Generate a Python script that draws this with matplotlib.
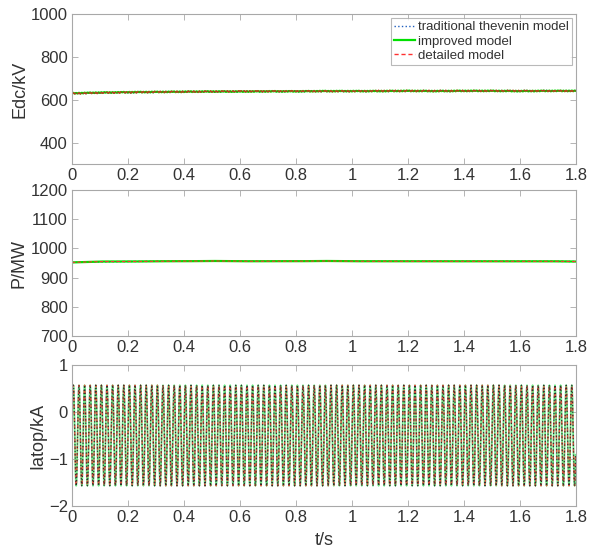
import numpy as np
import matplotlib
matplotlib.use("Agg")
import matplotlib.pyplot as plt

plt.rcParams['font.family'] = ['Liberation Sans', 'DejaVu Sans']

# ---- data ----
t_coarse = [0.00, 0.10, 0.20, 0.30, 0.40, 0.50, 0.60, 0.70, 0.80, 0.90,
            1.00, 1.10, 1.20, 1.30, 1.40, 1.50, 1.60, 1.70, 1.80]
edc_detailed = [629, 632, 634, 636, 637, 638, 639, 639, 640, 640,
                640, 641, 641, 641, 641, 641, 641, 641, 641]
edc_improved = [630, 633, 635, 636, 637, 638, 638, 639, 639, 640,
                640, 640, 641, 640, 641, 641, 640, 641, 641]
edc_thevenin = [629, 632, 634, 635, 637, 637, 638, 639, 639, 639,
                640, 640, 640, 641, 640, 641, 641, 641, 641]
edc_ripple = [0, 2.5, -2, 3, -2.5, 2, -3, 2.5, -2, 1.5, -2.5, 3]

p_detailed = [952, 955, 955, 956, 956, 957, 956, 956, 956, 957,
              956, 956, 956, 956, 956, 956, 956, 956, 955]
p_improved = [952, 955, 955, 956, 956, 957, 956, 956, 956, 957,
              956, 956, 956, 956, 956, 956, 956, 956, 955]
p_thevenin = [952, 954, 955, 956, 956, 957, 956, 956, 956, 957,
              956, 956, 956, 956, 956, 956, 956, 956, 955]

# one 50 Hz period of the arm current (kA), 16 samples
iatop_cycle = [-0.50, -0.09, 0.26, 0.49, 0.57, 0.49, 0.26, -0.09,
               -0.50, -0.91, -1.26, -1.49, -1.57, -1.49, -1.26, -0.91]
n_cycles = 90

# ---- figure ----
fig = plt.figure(figsize=(5.89, 5.51), dpi=100)
W, H = 589, 551
def axpos(l, t, r, b):
    return [l / W, 1 - b / H, (r - l) / W, (b - t) / H]

ax1 = fig.add_axes(axpos(72, 14, 576, 164))
ax2 = fig.add_axes(axpos(72, 190, 576, 336))
ax3 = fig.add_axes(axpos(72, 365, 576, 506))

c_blue = '#1f5fbf'
c_green = '#00e000'
c_red = '#ff3030'
txt = '#333333'
spine = '#a8a8a8'

# Edc: coarse curve plus small ripple
t_fine = np.linspace(0, 1.8, 361)
rip = np.resize(np.array(edc_ripple, dtype=float), t_fine.size)
e_d = np.interp(t_fine, t_coarse, edc_detailed) + rip
e_i = np.interp(t_fine, t_coarse, edc_improved) + 0.6 * rip[::-1]
e_t = np.interp(t_fine, t_coarse, edc_thevenin) + 0.8 * rip
ax1.plot(t_fine, e_t, ':', color=c_blue, lw=1.0, label='traditional thevenin model')
ax1.plot(t_fine, e_i, '-', color=c_green, lw=1.6, label='improved model')
ax1.plot(t_fine, e_d, '--', color=c_red, lw=1.0, dashes=(3, 2), label='detailed model')
ax1.plot(t_fine, e_d, '-', color='#8a3a10', lw=0.8, alpha=0.6)

t_p = np.linspace(0, 1.8, 181)
ax2.plot(t_p, np.interp(t_p, t_coarse, p_thevenin), ':', color=c_blue, lw=1.0)
ax2.plot(t_p, np.interp(t_p, t_coarse, p_improved), '-', color=c_green, lw=1.6)
ax2.plot(t_p, np.interp(t_p, t_coarse, p_detailed), '--', color=c_red, lw=0.8, dashes=(3, 2))

cur = np.tile(np.array(iatop_cycle), n_cycles)
t_i = np.linspace(0, 1.8, cur.size, endpoint=False)
ax3.plot(t_i, cur, '-', color='#5fe87a', lw=1.3, alpha=0.9)
ax3.plot(t_i, cur, '--', color=c_red, lw=1.0, dashes=(2.5, 2.5), alpha=0.8)
ax3.plot(t_i, cur, ':', color='#303030', lw=0.9)

ax1.set_ylim(300, 1000)
ax1.set_yticks([400, 600, 800, 1000])
ax2.set_ylim(700, 1200)
ax2.set_yticks([700, 800, 900, 1000, 1100, 1200])
ax3.set_ylim(-2, 1)
ax3.set_yticks([-2, -1, 0, 1])

xt = [0, 0.2, 0.4, 0.6, 0.8, 1.0, 1.2, 1.4, 1.6, 1.8]
xtl = ['0', '0.2', '0.4', '0.6', '0.8', '1', '1.2', '1.4', '1.6', '1.8']
for ax, lab in [(ax1, 'Edc/kV'), (ax2, 'P/MW'), (ax3, 'Iatop/kA')]:
    ax.set_xlim(0, 1.8)
    ax.set_xticks(xt)
    ax.set_xticklabels(xtl)
    ax.tick_params(direction='in', top=True, right=True, length=4, width=0.6,
                   colors=spine, labelcolor=txt, labelsize=12, pad=3)
    for s in ax.spines.values():
        s.set_color(spine)
        s.set_linewidth(0.8)
    ax.set_ylabel(lab, fontsize=13, color=txt, labelpad=2)

ax3.set_xlabel('t/s', fontsize=13, color=txt, labelpad=5)

leg = ax1.legend(loc='upper right', fontsize=9.5, frameon=True, fancybox=False,
                 handlelength=1.6, handletextpad=0.2, borderpad=0.25,
                 labelspacing=0.15, borderaxespad=0.3)
leg.get_frame().set_edgecolor(spine)
leg.get_frame().set_linewidth(0.8)
for text in leg.get_texts():
    text.set_color(txt)

fig.savefig('out.png', dpi=100)
